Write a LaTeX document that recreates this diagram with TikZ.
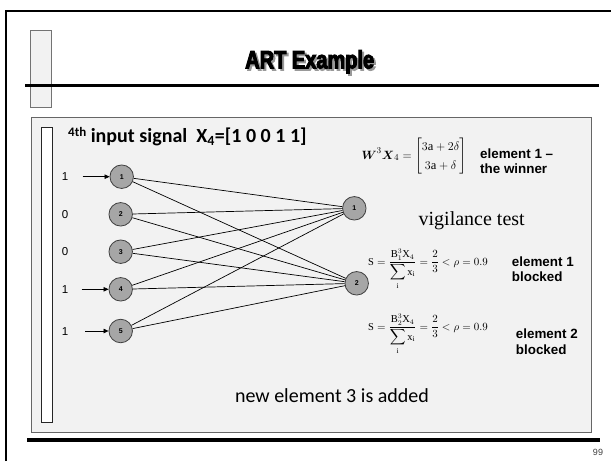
\documentclass[tikz,border=0pt]{standalone}
\usepackage{amsmath}
\usepackage{fontspec}
\setmainfont{Carlito}
\setmathrm{Liberation Serif}
\newfontfamily\arialfont{Liberation Sans}
\newfontfamily\seriffont{Liberation Serif}
\newfontfamily\titlefont[FakeStretch=0.8,FakeBold=4]{Liberation Sans Bold}
\usetikzlibrary{arrows.meta}

\begin{document}
\begin{tikzpicture}[x=1pt,y=-1pt,
  neuron/.style={circle,draw=black!75,fill=black!35,line width=0.8pt,
    minimum size=23.5pt,inner sep=0pt,
    font=\arialfont\bfseries\fontsize{7}{8}\selectfont},
  link/.style={draw=black,line width=0.7pt},
  feed/.style={draw=black,line width=0.7pt,-{Triangle[length=5pt,width=4.5pt]}},
  inval/.style={font=\arialfont\fontsize{11.5}{13}\selectfont,inner sep=0pt},
  note/.style={font=\arialfont\bfseries\fontsize{13.4}{15.5}\selectfont,
    align=left,anchor=west,inner sep=0pt},
  heavyrule/.style={line width=3.3pt,draw=black},
  titletext/.style={anchor=base,inner sep=0pt,font=\titlefont\fontsize{25}{28}\selectfont},
]
\useasboundingbox (0,0) rectangle (611,461);
\fill[white] (0,0) rectangle (611,461);

% slide frame
\draw[line width=2pt] (6,461) -- (6,11) -- (611,11);

% title area
\draw[draw=black!55,fill=black!5,line width=0.8pt] (30.7,30) rectangle (51,107);
\draw[heavyrule] (25,85.7) -- (599,85.7);
\node[titletext,text=black!40] (titleshadow) at (311.7,70.3) {ART Example};
\node[titletext] (title) at (309.7,68.3) {ART Example};

% content panel
\draw[draw=black!60,fill=black!5,line width=0.8pt] (31,117) rectangle (591,432);
\draw[draw=black!85,fill=white,line width=0.7pt] (41,127) rectangle (52,422);

% bottom rule and page number
\draw[heavyrule] (27,440) -- (600,440);
\node[font=\arialfont\fontsize{9}{10}\selectfont,text=black!75,inner sep=0pt]
  (pagenum) at (598,452) {99};

% heading
\node[anchor=base west,inner sep=0pt,font=\bfseries\fontsize{20}{24}\selectfont]
  (heading) at (68,142) {\raisebox{6pt}{\fontsize{13}{15}\selectfont 4th} input signal\ \ X\textsubscript{4}=[1 0 0 1 1]};

% input layer
\node[neuron] (i1) at (121.7,176.7) {1};
\node[neuron] (i2) at (120.7,214.3) {2};
\node[neuron] (i3) at (120.7,251.7) {3};
\node[neuron] (i4) at (120.7,289.3) {4};
\node[neuron] (i5) at (120.7,331) {5};

% output layer
\node[neuron] (o1) at (354.3,208.3) {1};
\node[neuron] (o2) at (356.7,283.3) {2};

% input values
\node[inval] (v1) at (65,176.7) {1};
\node[inval] (v2) at (65,214.3) {0};
\node[inval] (v3) at (65,251.7) {0};
\node[inval] (v4) at (65,289.3) {1};
\node[inval] (v5) at (65,332) {1};

\coordinate (a1) at (82.7,176.7);
\coordinate (a4) at (81.7,289.3);
\coordinate (a5) at (85,331);
\draw[feed] (a1) -- (i1);
\draw[feed] (a4) -- (i4);
\draw[feed] (a5) -- (i5);

% full connections
\foreach \i in {1,...,5}{
  \draw[link] (i\i) -- (o1);
  \draw[link] (i\i) -- (o2);
}

% winner computation
\node[anchor=center,inner sep=0pt,font=\fontsize{12.5}{14}\selectfont] (weq) at (414,156)
  {\renewcommand\arraystretch{1.35}$\boldsymbol{W}^{3}\boldsymbol{X}_{4}=\begin{bmatrix}3\mathrm{a}+2\delta\\3\mathrm{a}+\delta\end{bmatrix}$};
\node[note] (winner) at (480,161.3) {element 1 –\\the winner};

\node[anchor=base,inner sep=0pt,font=\seriffont\fontsize{20}{24}\selectfont]
  (vig) at (471.7,225) {vigilance test};

% vigilance checks
\node[anchor=base west,inner sep=0pt,font=\fontsize{10.5}{12}\selectfont] (s1) at (368,265)
  {$\mathrm{S}=\dfrac{\mathrm{B}_1^3\mathrm{X}_4}{\displaystyle\sum_{\mathrm{i}}\mathrm{x}_{\mathrm{i}}}=\dfrac{2}{3}<\rho=0.9$};
\node[note] (b1) at (511.7,269.2) {element 1\\blocked};

\node[anchor=base west,inner sep=0pt,font=\fontsize{10.5}{12}\selectfont] (s2) at (368,330)
  {$\mathrm{S}=\dfrac{\mathrm{B}_2^3\mathrm{X}_4}{\displaystyle\sum_{\mathrm{i}}\mathrm{x}_{\mathrm{i}}}=\dfrac{2}{3}<\rho=0.9$};
\node[note] (b2) at (515.7,341.5) {element 2\\blocked};

\node[anchor=base,inner sep=0pt,font=\fontsize{20}{24}\selectfont]
  (added) at (332,402.7) {new element 3 is added};
\end{tikzpicture}
\end{document}
